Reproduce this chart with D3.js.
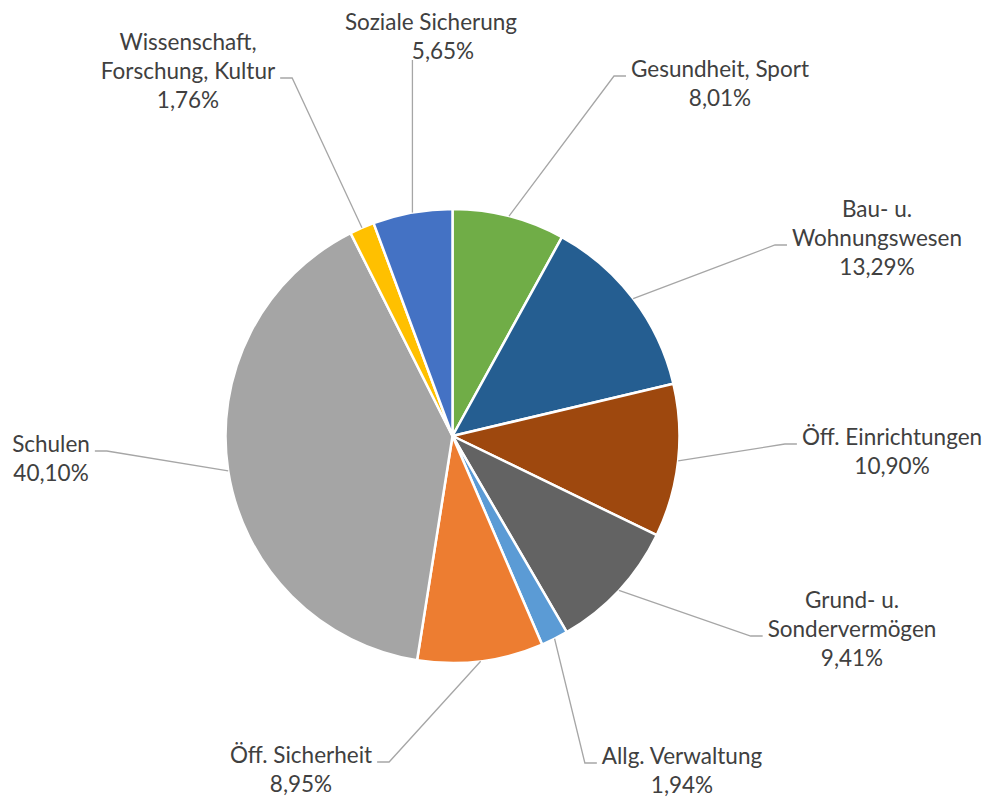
<!DOCTYPE html>
<html>
<head>
<meta charset="utf-8">
<script src="https://cdn.jsdelivr.net/npm/d3@7"></script>
<style>
  body { margin: 0; background: #fff; }
  text { font-family: Lato, "Open Sans", sans-serif; fill: #404040; }
</style>
</head>
<body>
<div id="chart"></div>
<script>
const width = 987;
const height = 798;

// data, clockwise from 12 o'clock
const labelLines = [
    ["Gesundheit, Sport"],
    ["Bau- u.", "Wohnungswesen"],
    ["Öff. Einrichtungen"],
    ["Grund- u.", "Sondervermögen"],
    ["Allg. Verwaltung"],
    ["Öff. Sicherheit"],
    ["Schulen"],
    ["Wissenschaft,", "Forschung, Kultur"],
    ["Soziale Sicherung"]
];
const shares = [8.01, 13.29, 10.90, 9.41, 1.94, 8.95, 40.10, 1.76, 5.65];
const colors = ["#70ad47", "#255e91", "#9e480e", "#636363", "#5b9bd5",
                "#ed7d31", "#a5a5a5", "#ffc000", "#4472c4"];

// where the labels sit (manually placed, like in the original):
// centre x, first baseline, line the leader attaches to
const labelLayout = [
    { x: 720, y: 77,  hook: 0 },
    { x: 877, y: 217, hook: 1 },
    { x: 892, y: 445, hook: 0 },
    { x: 852, y: 608, hook: 1 },
    { x: 682, y: 764, hook: 0 },
    { x: 301, y: 763, hook: 0 },
    { x: 51,  y: 452, hook: 0 },
    { x: 188, y: 50,  hook: 1 },
    { x: 431, y: 30,  hook: "bottom", valueDx: 12 }
];

const cx = 452.5, cy = 436, radius = 227;
const lineGap = 29;
const fontSize = 22.5;

const data = shares.map((v, i) => ({
    value: v,
    lines: labelLines[i].concat([d3.format(".2f")(v).replace(".", ",") + "%"]),
    color: colors[i],
    layout: labelLayout[i]
}));

const svg = d3.select("#chart")
    .append("svg")
    .attr("width", width)
    .attr("height", height);

const pie = d3.pie()
    .sort(null)
    .value(d => d.value);

const arc = d3.arc()
    .innerRadius(0)
    .outerRadius(radius);

const arcs = pie(data);

const g = svg.append("g")
    .attr("transform", `translate(${cx},${cy})`);

g.selectAll("path.slice")
    .data(arcs)
    .enter().append("path")
    .attr("class", "slice")
    .attr("d", arc)
    .attr("fill", d => d.data.color)
    .attr("stroke", "#fff")
    .attr("stroke-width", 2.5)
    .attr("stroke-linejoin", "round");

// labels
const labels = svg.selectAll("text.label")
    .data(arcs)
    .enter().append("text")
    .attr("class", "label")
    .attr("text-anchor", "middle")
    .style("font-size", fontSize + "px");

labels.each(function(d) {
    const t = d3.select(this);
    const lay = d.data.layout;
    const n = d.data.lines.length;
    d.data.lines.forEach((line, i) => {
        const dx = (i === n - 1 && lay.valueDx) ? lay.valueDx : 0;
        t.append("tspan")
            .attr("x", lay.x + dx)
            .attr("y", lay.y + i * lineGap)
            .text(line);
    });
});

// leader lines: slice edge at mid angle -> elbow -> text
const leaders = svg.append("g")
    .attr("fill", "none")
    .attr("stroke", "#a6a6a6")
    .attr("stroke-width", 1.3);

labels.each(function(d) {
    const lay = d.data.layout;
    const mid = (d.startAngle + d.endAngle) / 2;
    const px = cx + radius * Math.sin(mid);
    const py = cy - radius * Math.cos(mid);
    let pts;
    if (lay.hook === "bottom") {
        const top = lay.y + (d.data.lines.length - 1) * lineGap + 1;
        pts = [[px, py], [px, top]];
    } else {
        const tspan = d3.select(this).selectAll("tspan").nodes()[lay.hook];
        const w = tspan.getComputedTextLength();
        const ly = lay.y + lay.hook * lineGap - 1;
        const right = lay.x > px;
        const ex = right ? lay.x - w / 2 - 5 : lay.x + w / 2 + 5;
        const kx = right ? ex - 12 : ex + 12;
        pts = [[px, py], [kx, ly], [ex, ly]];
    }
    leaders.append("path").attr("d", d3.line()(pts));
});
</script>
</body>
</html>
